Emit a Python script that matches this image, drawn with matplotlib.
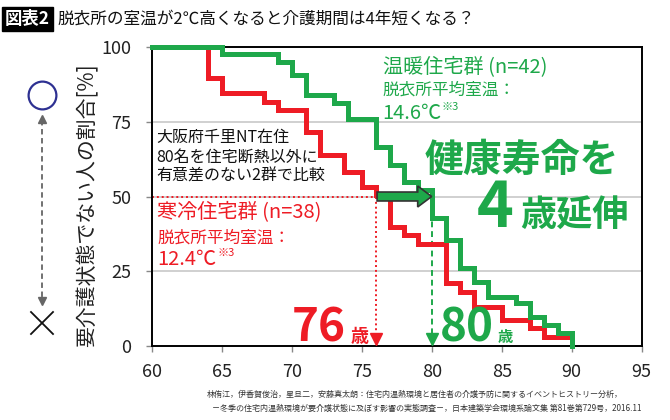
import numpy as np
import matplotlib.pyplot as plt
from matplotlib.lines import Line2D
from matplotlib.patches import FancyArrow

plt.rcParams['font.family'] = ['Noto Sans CJK JP', 'DejaVu Sans']

# --- data ---
warm_ages = [60, 65, 69, 70, 71, 73, 74, 76, 77, 78, 79, 80, 81, 82, 83, 84, 86, 87, 88, 89, 90]
warm_pct = [100, 97.7, 95.1, 90.6, 83.9, 81.2, 75.8, 66.4, 60.5, 55.0, 52.2, 42.7,
            35.5, 26.0, 21.5, 16.5, 14.3, 9.8, 7.0, 4.2, 0]
cold_ages = [60, 64, 65, 68, 69, 71, 72, 73.7, 75, 76, 77, 78, 79, 81, 82, 83, 85, 87, 88, 90]
cold_pct = [100, 89.5, 84.5, 81.7, 78.9, 71.7, 63.9, 58.3, 53.3, 50.5, 39.9, 37.1,
            34.2, 21.0, 18.2, 13.1, 8.7, 5.9, 3.1, 3.1]
cold_median = 76
warm_median = 80
x_ticks = [60, 65, 70, 75, 80, 85, 90, 95]
y_ticks = [0, 25, 50, 75, 100]

GREEN = '#1ea84a'
RED = '#ee1c25'
W, H = 670, 420


def fpos(x, y):
    # pixel position (top-left origin) -> figure fraction
    return x / W, 1 - y / H


fig = plt.figure(figsize=(6.7, 4.2), dpi=100)
l, b = fpos(151.7, 346)
r, t = fpos(641.7, 47)
ax = fig.add_axes([l, b, r - l, t - b])

ax.set_xlim(60, 95)
ax.set_ylim(0, 100)
ax.set_xticks(x_ticks)
ax.set_yticks(y_ticks)
ax.tick_params(axis='both', direction='out', length=4.5, width=1, color='#888888',
               labelsize=13, labelcolor='#222222')
ax.tick_params(axis='y', pad=10)
ax.tick_params(axis='x', pad=8)
for s in ax.spines.values():
    s.set_color('black')
    s.set_linewidth(1.4)
for g in [25, 50, 75]:
    ax.axhline(g, color='#c8c8c8', lw=1.2, zorder=0)

# survival steps
ax.step(cold_ages, cold_pct, where='post', color=RED, lw=3.6, zorder=3,
        solid_joinstyle='miter', clip_on=False)
ax.step(warm_ages, warm_pct, where='post', color=GREEN, lw=3.6, zorder=4,
        solid_joinstyle='miter', clip_on=False)

# median guides
ax.plot([60, cold_median], [50, 50], color=RED, lw=1.4, ls=(0, (1, 1.5)), zorder=2)
ax.plot([cold_median, cold_median], [50, 3], color=RED, lw=1.4, ls=(0, (1, 1.5)), zorder=2)
ax.plot([cold_median], [2.2], marker='v', ms=8, color=RED, zorder=5, clip_on=False)
ax.plot([warm_median, warm_median], [48, 3], color=GREEN, lw=1.4, ls=(0, (3, 2)), zorder=2)
ax.plot([warm_median], [2.2], marker='v', ms=8, color=GREEN, zorder=5, clip_on=False)

arrow = FancyArrow(cold_median + 0.1, 50, warm_median - cold_median - 0.1, 0,
                   width=3.0, head_width=7.0, head_length=1.0, length_includes_head=True,
                   facecolor=GREEN, edgecolor='#333333', lw=1.2, zorder=6)
ax.add_patch(arrow)

# annotations inside the plot
ax.text(76.5, 93.3, '温暖住宅群 (n=42)', color=GREEN, fontsize=14.5, va='center')
ax.text(76.5, 85.6, '脱衣所平均室温：', color=GREEN, fontsize=12, va='center')
ax.text(76.5, 77.8, '14.6℃', color=GREEN, fontsize=14.5, va='center')
ax.text(80.7, 80.0, '※3', color=GREEN, fontsize=8, va='center')

ax.text(79.5, 62.2, '健康寿命を', color=GREEN, fontsize=28, fontweight='bold', va='center')
ax.text(83.2, 39.8, '4', color=GREEN, fontsize=45, fontweight='bold', va='baseline')
ax.text(86.3, 40.3, '歳延伸', color=GREEN, fontsize=26, fontweight='bold', va='baseline')

for txt, yy in [('大阪府千里NT在住', 69.9), ('80名を住宅断熱以外に', 63.2),
                ('有意差のない2群で比較', 56.9)]:
    ax.text(60.3, yy, txt, color='#111111', fontsize=11.5, va='center', zorder=2)

ax.text(60.4, 44.9, '寒冷住宅群 (n=38)', color=RED, fontsize=14.5, va='center')
ax.text(60.4, 36.0, '脱衣所平均室温：', color=RED, fontsize=12, va='center')
ax.text(60.4, 28.8, '12.4℃', color=RED, fontsize=14.5, va='center')
ax.text(64.7, 31.0, '※3', color=RED, fontsize=8, va='center')

ax.text(70.0, 1.5, '76', color=RED, fontsize=33, fontweight='bold', va='baseline')
ax.text(74.2, 1.5, '歳', color=RED, fontsize=13, fontweight='bold', va='baseline')
ax.text(80.6, 1.5, '80', color=GREEN, fontsize=33, fontweight='bold', va='baseline')
ax.text(84.7, 1.5, '歳', color=GREEN, fontsize=11, fontweight='bold', va='baseline')

# y label and the good/bad marks on the left
fig.text(*fpos(87, 205), '要介護状態でない人の割合[%]', rotation=90, fontsize=15,
         color='#222222', ha='center', va='center')
fig.add_artist(Line2D([fpos(42, 95)[0]], [fpos(42, 95)[1]], marker='o', ms=20, mfc='none',
                      mec='#2e3192', mew=1.6, transform=fig.transFigure))
x0, ya = fpos(42, 120)
_, yb = fpos(42, 300)
fig.add_artist(Line2D([x0, x0], [ya, yb], color='#666666', lw=1.3, ls=(0, (3, 2)),
                      transform=fig.transFigure))
fig.add_artist(Line2D([x0], [fpos(42, 119)[1]], marker='^', ms=6, color='#666666',
                      transform=fig.transFigure))
fig.add_artist(Line2D([x0], [fpos(42, 301)[1]], marker='v', ms=6, color='#666666',
                      transform=fig.transFigure))
for (xa, y1), (xb, y2) in [((31, 312), (53, 334)), ((31, 334), (53, 312))]:
    p1, p2 = fpos(xa, y1), fpos(xb, y2)
    fig.add_artist(Line2D([p1[0], p2[0]], [p1[1], p2[1]], color='#111111', lw=1.3,
                          transform=fig.transFigure))

# title
fig.text(*fpos(5, 19), '図表2', color='white', fontsize=12.5, fontweight='bold', va='center',
         bbox=dict(boxstyle='square,pad=0.15', facecolor='black', edgecolor='black'))
fig.text(*fpos(57, 19), '脱衣所の室温が2℃高くなると介護期間は4年短くなる？', color='#111111',
         fontsize=12, va='center')

# source note
fig.text(*fpos(207, 394), '林侑江，伊香賀俊治，星旦二，安藤真太朗：住宅内温熱環境と居住者の介護予防に関するイベントヒストリー分析，',
         fontsize=5.8, color='#333333', va='center')
fig.text(*fpos(212, 408), '－冬季の住宅内温熱環境が要介護状態に及ぼす影響の実態調査－，日本建築学会環境系論文集 第81巻第729号，2016.11',
         fontsize=5.8, color='#333333', va='center')

fig.savefig('out.png', dpi=100)
